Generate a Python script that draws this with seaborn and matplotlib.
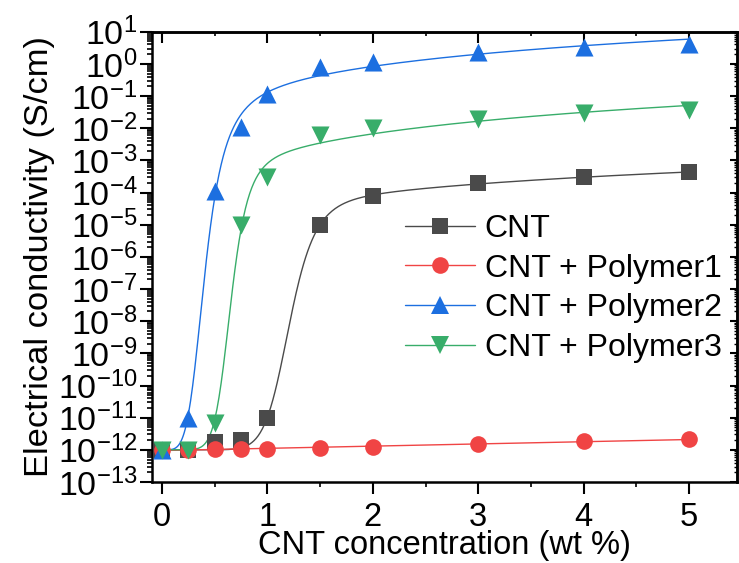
import numpy as np
import matplotlib
matplotlib.use("Agg")
import matplotlib.pyplot as plt
from matplotlib.lines import Line2D
from matplotlib.ticker import LogLocator, MultipleLocator, NullFormatter
import seaborn as sns

# data
conc = [0, 0.25, 0.5, 0.75, 1, 1.5, 2, 3, 4, 5]
cnt = [1e-12, 1e-12, 1.7e-12, 2e-12, 1e-11, 1e-5, 8e-5, 2e-4, 3e-4, 4.2e-4]
poly1 = [1e-12, 1e-12, 1.05e-12, 1.05e-12, 1.1e-12, 1.15e-12, 1.23e-12, 1.55e-12, 1.85e-12, 2.1e-12]
poly2 = [1e-12, 1e-11, 1.1e-4, 1.1e-2, 0.115, 0.81, 1.17, 2.3, 3.3, 4.2]
poly3 = [1e-12, 1e-12, 7e-12, 1e-5, 3e-4, 6e-3, 1e-2, 2e-2, 2.9e-2, 3.6e-2]
labels = ["CNT", "CNT + Polymer1", "CNT + Polymer2", "CNT + Polymer3"]

colors = ["#4a4a4a", "#f04444", "#1c6fe0", "#38ad6a"]
markers = ["s", "o", "^", "v"]
msizes = [11, 12, 13, 13]


def step(x, m, w):
    # logistic step in log10(x)
    lx = np.log10(np.clip(x, 1e-6, None))
    return 1 / (1 + np.exp(-(lx - m) / w))


def fit_sigmoid(x, y, xs):
    """Log-space step from the first point up to a power-law branch,
    least squares on log10 of the data."""
    x = np.asarray(x, float)
    ly = np.log10(y)
    a1 = ly[0]
    lx = np.log10(np.clip(x, 1e-3, None))
    best = None
    for m in np.linspace(-1.0, 0.4, 141):
        for w in np.linspace(0.01, 0.3, 88):
            s = step(x, m, w)
            A = np.column_stack([s, s * lx])
            coef = np.linalg.lstsq(A, ly - a1, rcond=None)[0]
            err = np.sum((A @ coef - (ly - a1)) ** 2)
            if best is None or err < best[0]:
                best = (err, m, w, coef)
    _, m, w, coef = best
    s = step(xs, m, w)
    return 10 ** (a1 + s * (coef[0] + coef[1] * np.log10(np.clip(xs, 1e-3, None))))


def fit_line(x, y, xs):
    p = np.polyfit(x, np.log10(y), 1)
    return 10 ** np.polyval(p, xs)


sns.set_style("ticks")
plt.rcParams["font.family"] = ["Liberation Sans", "DejaVu Sans"]
plt.rcParams["mathtext.fontset"] = "custom"
plt.rcParams["mathtext.rm"] = "Liberation Sans"
plt.rcParams["mathtext.it"] = "Liberation Sans:italic"
plt.rcParams["mathtext.bf"] = "Liberation Sans:bold"
for key in ["text.color", "axes.labelcolor", "xtick.color", "ytick.color", "axes.edgecolor"]:
    plt.rcParams[key] = "black"

fig = plt.figure(figsize=(7.39, 5.63), dpi=100)
ax = fig.add_axes([152 / 739, 1 - 482 / 563, (737 - 152) / 739, (482 - 31.7) / 563])

xs = np.linspace(0, 5, 500)
series = [cnt, poly1, poly2, poly3]
for i, vals in enumerate(series):
    if i == 1:
        curve = fit_line(conc, vals, xs)
    else:
        curve = fit_sigmoid(conc, vals, xs)
    sns.lineplot(x=xs, y=curve, ax=ax, color=colors[i], lw=1.0, legend=False, zorder=2)

for i, vals in enumerate(series):
    sns.scatterplot(x=conc, y=vals, ax=ax, color=colors[i], marker=markers[i],
                    s=msizes[i] ** 2, linewidth=0, legend=False, zorder=3 + i)

ax.set_yscale("log")
ax.set_xlim(-0.095, 5.455)
ax.set_ylim(1e-13, 10)
ax.yaxis.set_major_locator(LogLocator(base=10, numticks=30))
ax.yaxis.set_minor_locator(LogLocator(base=10, subs=np.arange(2, 10), numticks=30))
ax.yaxis.set_minor_formatter(NullFormatter())
ax.xaxis.set_major_locator(MultipleLocator(1))
ax.xaxis.set_minor_locator(MultipleLocator(0.5))

for sp in ax.spines.values():
    sp.set_linewidth(1.8)
    sp.set_visible(True)
ax.tick_params(axis="both", which="major", direction="out", length=8.5, width=1.5,
               labelsize=24.5, pad=2)
ax.tick_params(axis="both", which="minor", direction="out", length=3.5, width=1.2)
ax.tick_params(axis="x", which="major", labelsize=23.5, pad=6)

# inward ticks on top and right
top = ax.secondary_xaxis("top")
top.xaxis.set_major_locator(MultipleLocator(1))
top.xaxis.set_minor_locator(MultipleLocator(0.5))
top.tick_params(which="major", direction="in", length=8, width=1.5, labeltop=False)
top.tick_params(which="minor", direction="in", length=3, width=1.2)
top.spines["top"].set_linewidth(1.8)

right = ax.secondary_yaxis("right")
right.yaxis.set_major_locator(LogLocator(base=10, numticks=30))
right.yaxis.set_minor_locator(LogLocator(base=10, subs=np.arange(2, 10), numticks=30))
right.tick_params(which="major", direction="in", length=5, width=1.5, labelright=False)
right.tick_params(which="minor", direction="in", length=2.5, width=1.0, labelright=False)
right.spines["right"].set_linewidth(1.8)

ax.set_xlabel("CNT concentration (wt %)", fontsize=23.5, labelpad=-2)
ax.set_ylabel("Electrical conductivity (S/cm)", fontsize=24.8, labelpad=2)

handles = [Line2D([], [], color=colors[i], lw=1.0, marker=markers[i],
                  markersize=msizes[i], markeredgewidth=0) for i in range(4)]
fig.legend(handles, labels, loc="upper left", bbox_to_anchor=(405 / 739, 1 - 214 / 563),
           frameon=False, fontsize=23, handlelength=2.2, handletextpad=0.3,
           labelspacing=0.3, borderpad=0, borderaxespad=0)

fig.savefig("out.png", dpi=100)
